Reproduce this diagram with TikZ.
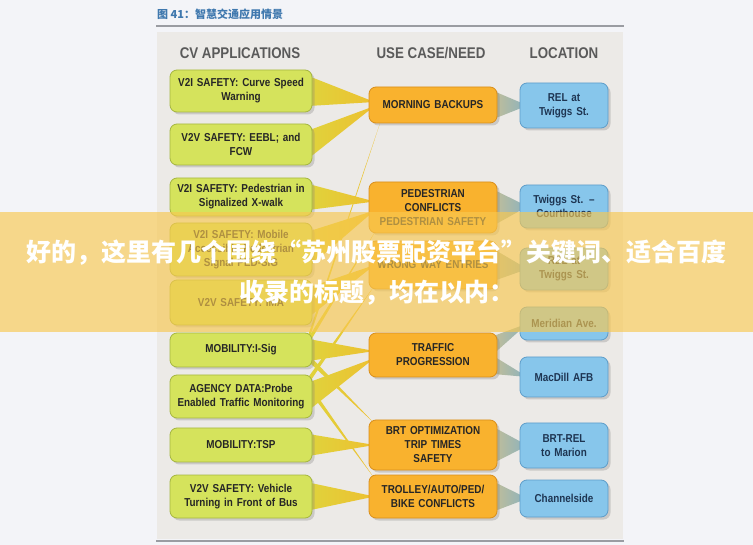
\documentclass[tikz,border=0pt]{standalone}
\usepackage{fontspec}
\setmainfont{Liberation Sans}
\newfontfamily\narrowfont[FakeStretch=0.86]{Liberation Sans}
\newfontfamily\cjk{Noto Sans CJK SC}
\usetikzlibrary{positioning,calc,shadows,backgrounds}
\definecolor{pagebg}{HTML}{F3F4F8}
\definecolor{panelgray}{HTML}{ECEAE7}
\definecolor{rulegray}{HTML}{9A9CA2}
\definecolor{titleblue}{HTML}{3F78AE}
\definecolor{headgray}{HTML}{5A5A5A}
\definecolor{cvgreen}{HTML}{D5E35C}
\definecolor{cvgreenline}{HTML}{A5B641}
\definecolor{useorange}{HTML}{F9B22E}
\definecolor{useorangeline}{HTML}{D98F1C}
\definecolor{locblue}{HTML}{87C6EB}
\definecolor{locblueline}{HTML}{5E9DC9}
\definecolor{locnavy}{HTML}{1E3552}
\definecolor{linkyellow}{HTML}{E0D33C}
\definecolor{linkyellowdark}{HTML}{EDC030}
\definecolor{linkgray}{HTML}{8AB2BF}
\definecolor{linkgraywarm}{HTML}{C2BE98}
\definecolor{bannerorange}{HTML}{F8C850}
\tikzset{
    boxbase/.style={rounded corners=7pt, line width=0.8pt, align=center, inner sep=2pt,
        font=\narrowfont\bfseries\fontsize{11.5}{14}\selectfont,
        drop shadow={shadow xshift=2.5pt, shadow yshift=-2.5pt, opacity=0.3}},
    cvapp/.style={boxbase, draw=cvgreenline, fill=cvgreen, text=black!85, minimum width=142pt, text width=138pt},
    usecase/.style={boxbase, draw=useorangeline, fill=useorange, text=black!85, minimum width=128pt, text width=124pt},
    location/.style={boxbase, draw=locblueline, fill=locblue, text=locnavy, minimum width=88pt, text width=84pt},
    heading/.style={font=\narrowfont\bfseries\fontsize{15.5}{18}\selectfont, text=headgray},
    caption/.style={anchor=west, inner sep=0pt, font=\cjk\bfseries\fontsize{11}{12}\selectfont, text=titleblue},
    rule/.style={draw=rulegray, line width=2pt},
    bannertext/.style={font=\cjk\bfseries\fontsize{25}{30}\selectfont, text=white, inner sep=0pt},
}

\begin{document}
\begin{tikzpicture}[x=1pt, y=-1pt]
    \useasboundingbox (0,0) rectangle (753,545);
    % Page and frame
    \begin{scope}[on background layer]
        \fill[pagebg] (0,0) rectangle (753,545);
        \fill[panelgray] (157,32) rectangle (623,539);
        \draw[rule] (156,26) -- (624,26);
        \draw[rule] (156,541) -- (624,541);
    \end{scope}
    \node[caption] (title) at (157,14) {图 41：智慧交通应用情景};
    % Column headings
    \node[heading] (hcv) at (240,53) {CV APPLICATIONS};
    \node[heading] (huse) at (431,53) {USE CASE/NEED};
    \node[heading] (hloc) at (564,53) {LOCATION};
    % CV applications
    \foreach \i/\y/\h/\txt in {1/91/42/{V2I SAFETY: Curve Speed\\Warning},
                               2/144.5/41/{V2V SAFETY: EEBL; and\\FCW},
                               3/197/38/{V2I SAFETY: Pedestrian in\\Signalized X-walk},
                               4/249.5/53/{V2I SAFETY: Mobile\\Accessible Pedestrian\\Signal PED-SIG},
                               5/302.5/45/{V2V SAFETY: IMA},
                               6/350/34/{MOBILITY:I-Sig},
                               7/396.5/43/{AGENCY DATA:Probe\\Enabled Traffic Monitoring},
                               8/445/34/{MOBILITY:TSP},
                               9/496.5/43/{V2V SAFETY: Vehicle\\Turning in Front of Bus}} {
        \node[cvapp, minimum height=\h] (c\i) at (241,\y) {\txt};
    }
    % Use cases
    \foreach \i/\y/\h/\txt in {1/105/36/{MORNING BACKUPS},
                               2/207.5/51/{PEDESTRIAN\\CONFLICTS\\PEDESTRIAN SAFETY},
                               3/265/48/{WRONG WAY ENTRIES},
                               4/355/44/{TRAFFIC\\PROGRESSION},
                               5/445/50/{BRT OPTIMIZATION\\TRIP TIMES\\SAFETY},
                               6/496.5/43/{TROLLEY/AUTO/PED/\\BIKE CONFLICTS}} {
        \node[usecase, minimum height=\h] (u\i) at (433,\y) {\txt};
    }
    % Locations
    \foreach \i/\y/\h/\txt in {1/105.5/45/{REL at\\Twiggs St.},
                               2/206.5/43/{Twiggs St. –\\Courthouse},
                               3/269/42/{REL at\\Twiggs St.},
                               4/323.5/33/{Meridian Ave.},
                               5/377/40/{MacDill AFB},
                               6/445.5/45/{BRT-REL\\to Marion},
                               7/498.5/37/{Channelside}} {
        \node[location, minimum height=\h] (l\i) at (564,\y) {\txt};
    }
    % Links: applications -> use cases
    \begin{scope}[on background layer]
        \foreach \s/\sy/\w/\t/\tx/\ty in {c1/0/15/u1.west/6/-3, c2/0/14/u1.west/6/1,
                                          c3/0/13/u2.west/6/-6, c4/0/18/u2.west/6/3,
                                          c5/0/15/u3.west/6/0, c6/0/11/u4.west/6/-4,
                                          c7/0/14/u4.west/6/3, c8/0/11/u5.west/6/0,
                                          c9/0/14/u6.west/6/0,
                                          c6/-12/3.5/u1.south west/12/-2,
                                          c6/-9/3.5/u2.south west/8/-4,
                                          c7/-16/3.5/u3.south west/6/-4,
                                          c6/8/3.5/u5.north west/6/4,
                                          c7/-10/3.5/u6.north west/6/4} {
            \shade[left color=linkyellow, right color=linkyellowdark]
                ($(\s.east)+(-4,\sy-\w)$) -- ($(\s.east)+(-4,\sy+\w)$) -- ($(\t)+(\tx,\ty)$) -- cycle;
        }
        % Links: use cases -> locations
        \foreach \s/\sy/\w/\t in {u1/0/14/l1, u2/0/18/l2, u3/0/16/l3, u4/-10/9/l4,
                                  u4/10/9/l5, u5/0/18/l6, u6/0/15/l7} {
            \shade[left color=linkgraywarm, right color=linkgray]
                ($(\s.east)+(-4,\sy-\w)$) -- ($(\s.east)+(-4,\sy+\w)$) -- ($(\t.west)+(8,0)$) -- cycle;
        }
    \end{scope}
    % Overlay band
    \fill[bannerorange, opacity=0.65] (0,212) rectangle (753,332);
    \node[bannertext] (ad1) at (377,252) {好的，这里有几个围绕“苏州股票配资平台”关键词、适合百度};
    \node[bannertext] (ad2) at (377,293) {收录的标题，均在以内：};
\end{tikzpicture}
\end{document}
